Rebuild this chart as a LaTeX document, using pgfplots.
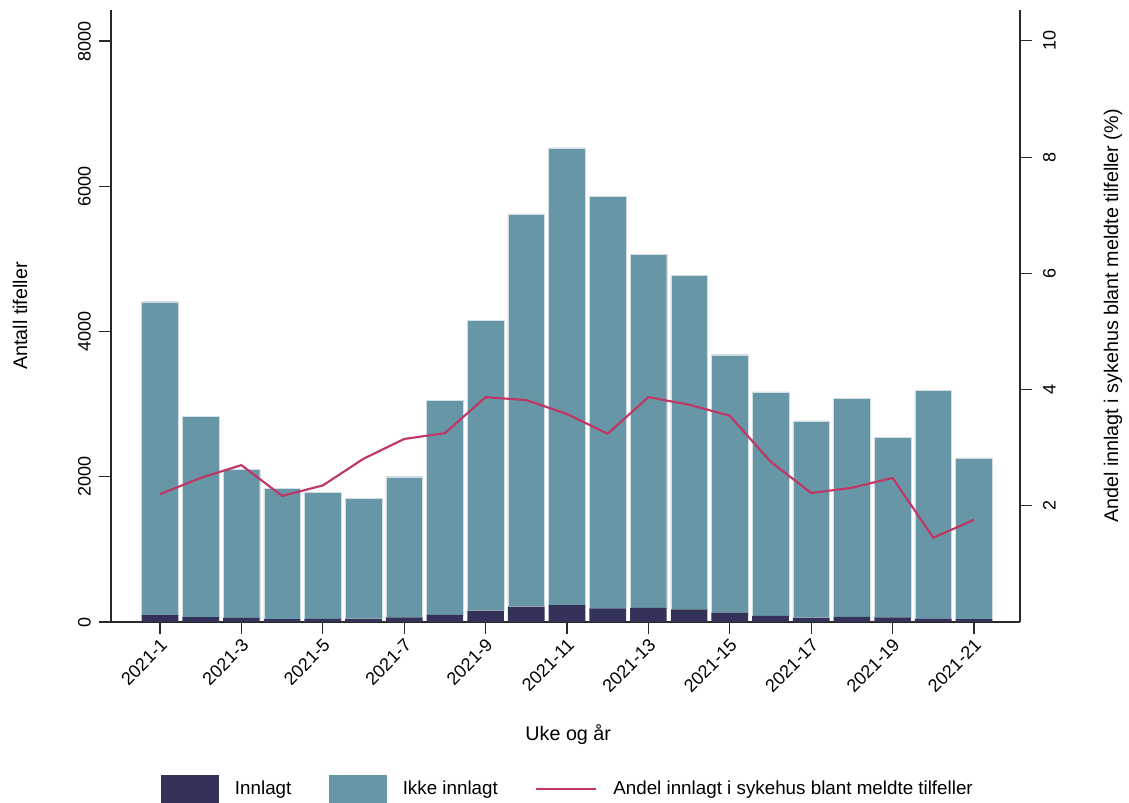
\documentclass[border=0pt]{standalone}
\usepackage{fontspec}
\setmainfont{Liberation Sans}
\usepackage{pgfplots}
\usepackage{pgfplotstable}
\pgfplotsset{compat=1.18}
\definecolor{navyb}{RGB}{51,51,89}
\definecolor{tealb}{RGB}{103,150,166}
\definecolor{linec}{RGB}{192,54,100}
\definecolor{axc}{RGB}{40,40,40}
\pgfplotsset{
  boxleg/.style={legend image code/.code={\fill[##1] (0pt,-10.5pt) rectangle (43.5pt,10.5pt);}},
  lineleg/.style={legend image code/.code={\draw[##1] (0pt,0pt) -- (45pt,0pt);}},
}
\pgfplotstableread{
wk inn ikke pct
1 95 4315 2.20
2 68 2762 2.48
3 56 2044 2.70
4 40 1800 2.17
5 42 1748 2.35
6 46 1654 2.81
7 62 1938 3.15
8 98 2952 3.25
9 158 3992 3.87
10 212 5408 3.82
11 234 6296 3.58
12 186 5674 3.24
13 195 4865 3.87
14 175 4595 3.74
15 128 3552 3.55
16 84 3086 2.76
17 60 2710 2.22
18 70 3010 2.31
19 62 2478 2.48
20 45 3145 1.45
21 40 2220 1.76
}\data
\newcommand{\fs}{\fontsize{13.5}{16}\selectfont}
\newcommand{\fl}{\fontsize{14.8}{17}\selectfont}
\newcommand{\fg}{\fontsize{14.1}{17}\selectfont}
\begin{document}
\begin{tikzpicture}
\pgfplotsset{
  common/.style={
    scale only axis, width=681.75pt, height=459pt,
    xmin=-0.204, xmax=22.13, ymin=0,
    axis line style={-, color=axc, line width=0.8pt},
    tick align=outside, major tick length=9pt,
    tick style={color=axc, line width=0.8pt},
    tick label style={font=\fs},
    label style={font=\fl},
    /pgf/number format/assume math mode=true,
    /pgf/number format/1000 sep={},
  }
}
\begin{axis}[common, name=ax,
  ymax=8427,
  axis x line*=bottom, axis y line*=left,
  ybar stacked, bar width=0.9,
  xtick={1,3,...,21},
  xticklabels={2021-1,2021-3,2021-5,2021-7,2021-9,2021-11,2021-13,2021-15,2021-17,2021-19,2021-21},
  xticklabel style={xshift=3pt, yshift=-6pt, rotate=45, anchor=east, inner sep=0pt},
  ytick={0,2000,4000,6000,8000},
  yticklabel style={xshift=-11pt, rotate=90, anchor=center, inner sep=0pt},
  xlabel={Uke og år},
  xlabel style={at={(axis description cs:0.503,-0.1846)}, anchor=center},
  ylabel={Antall tifeller},
  ylabel style={at={(axis description cs:-0.1001,0.5)}, anchor=center, rotate=0},
]
\addplot[fill=navyb, draw=none] table[x=wk,y=inn]{\data};
\addplot[fill=tealb, draw=white!70!tealb, line width=0.3pt] table[x=wk,y=ikke]{\data};
\end{axis}
\begin{axis}[common,
  ymax=10.533,
  axis y line*=right, axis x line=none,
  ytick={2,4,6,8,10},
  yticklabel style={xshift=13pt, rotate=90, anchor=center, inner sep=0pt},
  ylabel={Andel innlagt i sykehus blant meldte tilfeller (\%)},
  ylabel style={at={(axis description cs:1.1023,0.5)}, anchor=center, rotate=0},
  legend columns=3,
  legend style={at={(axis description cs:0.503,-0.2729)}, anchor=center, draw=none,
    font=\fg, /tikz/every even column/.append style={column sep=26pt},
    /tikz/every odd column/.append style={column sep=10pt}},
]
\addlegendimage{fill=navyb, draw=none, boxleg}
\addlegendentry{Innlagt}
\addlegendimage{fill=tealb, draw=none, boxleg}
\addlegendentry{Ikke innlagt}
\addplot[linec, line width=1.6pt, mark=none, lineleg] table[x=wk,y=pct]{\data};
\addlegendentry{Andel innlagt i sykehus blant meldte tilfeller}
\end{axis}
\pgfresetboundingbox
\path[use as bounding box] ([shift={(-83.25pt,-135.75pt)}]ax.south west) rectangle ([shift={(81.75pt,7.5pt)}]ax.north east);
\end{tikzpicture}
\end{document}
